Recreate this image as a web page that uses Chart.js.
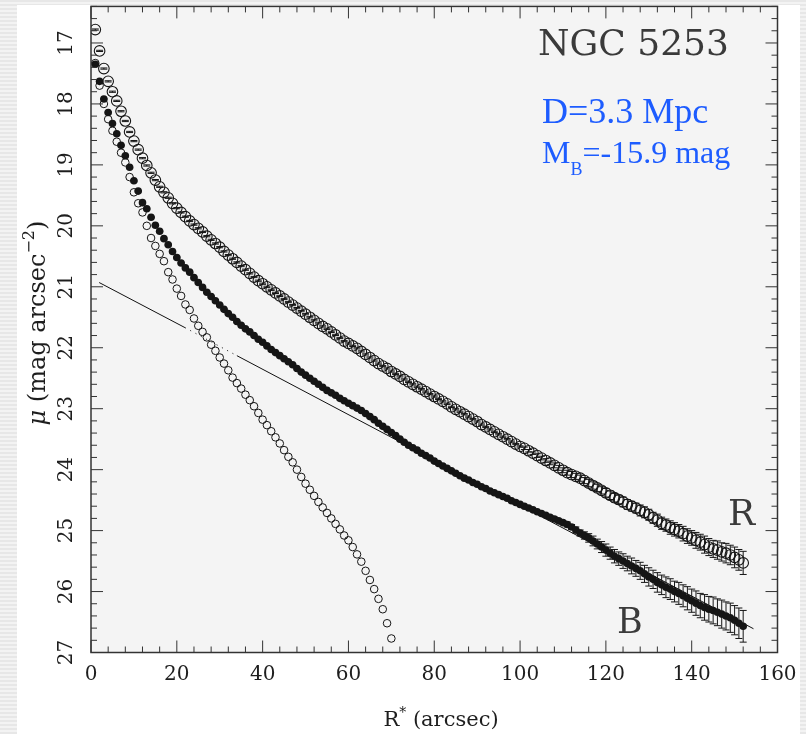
<!DOCTYPE html>
<html>
<head>
<meta charset="utf-8">
<script src="https://cdn.jsdelivr.net/npm/chart.js@4.4.1/dist/chart.umd.min.js"></script>
<style>
  html, body { margin: 0; padding: 0; }
  body {
    width: 806px; height: 734px; overflow: hidden; position: relative;
    background: repeating-linear-gradient(to bottom, #e7e7e7 0 2px, #f3f3f3 2px 4px);
  }
  #paper { position: absolute; left: 17px; top: 5px; width: 783px; height: 729px; background: #fff; }
  #chart { position: absolute; left: 0; top: 0; }
</style>
</head>
<body>
<div id="paper"></div>
<canvas id="chart" width="806" height="734"></canvas>
<script>
// radius (arcsec) of each isophote
const radii = [
  1, 2, 3, 4, 5, 6, 7, 8, 9, 10, 11, 12, 13, 14, 15, 16, 17, 18, 19, 20,
  21, 22, 23, 24, 25, 26, 27, 28, 29, 30, 31, 32, 33, 34, 35, 36, 37, 38, 39, 40,
  41, 42, 43, 44, 45, 46, 47, 48, 49, 50, 51, 52, 53, 54, 55, 56, 57, 58, 59, 60,
  61, 62, 63, 64, 65, 66, 67, 68, 69, 70, 71, 72, 73, 74, 75, 76, 77, 78, 79, 80,
  81, 82, 83, 84, 85, 86, 87, 88, 89, 90, 91, 92, 93, 94, 95, 96, 97, 98, 99, 100,
  101, 102, 103, 104, 105, 106, 107, 108, 109, 110, 111, 112, 113, 114, 115, 116, 117, 118, 119, 120,
  121, 122, 123, 124, 125, 126, 127, 128, 129, 130, 131, 132, 133, 134, 135, 136, 137, 138, 139, 140,
  141, 142, 143, 144, 145, 146, 147, 148, 149, 150, 151, 152
];

// R band profile (open circles)
const muR = [
  16.78, 17.13, 17.42, 17.63, 17.80, 17.95, 18.12, 18.28, 18.46, 18.61,
  18.75, 18.89, 19.01, 19.13, 19.25, 19.36, 19.45, 19.54, 19.63, 19.71,
  19.78, 19.85, 19.92, 19.98, 20.04, 20.10, 20.17, 20.23, 20.29, 20.35,
  20.42, 20.48, 20.54, 20.60, 20.66, 20.72, 20.78, 20.84, 20.90, 20.95,
  21.00, 21.05, 21.10, 21.15, 21.20, 21.25, 21.30, 21.35, 21.40, 21.45,
  21.50, 21.55, 21.60, 21.65, 21.69, 21.74, 21.79, 21.84, 21.89, 21.93,
  21.97, 22.01, 22.06, 22.11, 22.16, 22.21, 22.26, 22.30, 22.34, 22.39,
  22.43, 22.47, 22.52, 22.56, 22.60, 22.64, 22.68, 22.72, 22.76, 22.80,
  22.84, 22.88, 22.92, 22.97, 23.01, 23.05, 23.09, 23.13, 23.17, 23.21,
  23.26, 23.30, 23.34, 23.38, 23.42, 23.46, 23.50, 23.54, 23.58, 23.62,
  23.65, 23.69, 23.73, 23.77, 23.81, 23.85, 23.89, 23.93, 23.97, 24.01,
  24.05, 24.08, 24.11, 24.14, 24.18, 24.22, 24.26, 24.30, 24.34, 24.38,
  24.42, 24.46, 24.49, 24.53, 24.57, 24.60, 24.63, 24.67, 24.70, 24.74,
  24.79, 24.83, 24.88, 24.91, 24.95, 24.98, 25.01, 25.05, 25.09, 25.12,
  25.16, 25.19, 25.23, 25.27, 25.30, 25.32, 25.35, 25.37, 25.40, 25.44,
  25.48, 25.53
];
const errR = [
  0.01, 0.01, 0.01, 0.01, 0.01, 0.01, 0.01, 0.01, 0.01, 0.01, 0.01, 0.01, 0.01, 0.01, 0.01, 0.01, 0.01, 0.01, 0.01, 0.01,
  0.01, 0.01, 0.01, 0.01, 0.01, 0.01, 0.01, 0.01, 0.01, 0.01, 0.01, 0.01, 0.01, 0.01, 0.01, 0.01, 0.01, 0.01, 0.01, 0.01,
  0.01, 0.01, 0.01, 0.01, 0.01, 0.01, 0.01, 0.01, 0.01, 0.01, 0.01, 0.01, 0.01, 0.01, 0.01, 0.01, 0.01, 0.01, 0.01, 0.01,
  0.01, 0.01, 0.01, 0.01, 0.01, 0.01, 0.01, 0.01, 0.01, 0.01, 0.01, 0.01, 0.01, 0.01, 0.01, 0.01, 0.01, 0.01, 0.01, 0.01,
  0.01, 0.01, 0.01, 0.01, 0.01, 0.01, 0.01, 0.01, 0.01, 0.01, 0.01, 0.01, 0.01, 0.01, 0.01, 0.01, 0.01, 0.01, 0.01, 0.01,
  0.02, 0.02, 0.02, 0.03, 0.03, 0.03, 0.03, 0.04, 0.04, 0.04,
  0.04, 0.05, 0.05, 0.05, 0.05, 0.06, 0.06, 0.06, 0.06, 0.07,
  0.07, 0.07, 0.07, 0.08, 0.08, 0.08, 0.08, 0.09, 0.09, 0.09,
  0.09, 0.10, 0.10, 0.10, 0.11, 0.11, 0.11, 0.12, 0.12, 0.12,
  0.13, 0.13, 0.14, 0.14, 0.14, 0.15, 0.15, 0.16, 0.16, 0.17,
  0.17, 0.19
];

// B band profile (filled dots)
const muB = [
  17.35, 17.63, 17.92, 18.14, 18.32, 18.49, 18.68, 18.85, 19.04, 19.26,
  19.43, 19.62, 19.72, 19.86, 19.99, 20.09, 20.21, 20.31, 20.42, 20.52,
  20.61, 20.69, 20.76, 20.85, 20.93, 21.01, 21.09, 21.16, 21.23, 21.30,
  21.37, 21.44, 21.50, 21.57, 21.63, 21.69, 21.74, 21.80, 21.86, 21.91,
  21.97, 22.03, 22.08, 22.13, 22.18, 22.23, 22.28, 22.34, 22.40, 22.45,
  22.50, 22.55, 22.60, 22.65, 22.70, 22.74, 22.78, 22.83, 22.87, 22.91,
  22.95, 22.99, 23.03, 23.08, 23.13, 23.18, 23.24, 23.29, 23.34, 23.39,
  23.44, 23.50, 23.55, 23.60, 23.64, 23.68, 23.73, 23.77, 23.81, 23.86,
  23.90, 23.94, 23.98, 24.02, 24.06, 24.10, 24.14, 24.17, 24.21, 24.24,
  24.28, 24.31, 24.35, 24.38, 24.41, 24.44, 24.47, 24.51, 24.54, 24.57,
  24.60, 24.63, 24.66, 24.69, 24.72, 24.75, 24.78, 24.81, 24.84, 24.87,
  24.90, 24.94, 24.99, 25.04, 25.08, 25.12, 25.17, 25.22, 25.27, 25.32,
  25.37, 25.42, 25.46, 25.50, 25.54, 25.58, 25.62, 25.66, 25.71, 25.76,
  25.80, 25.85, 25.89, 25.93, 25.96, 26.00, 26.03, 26.07, 26.11, 26.15,
  26.19, 26.23, 26.26, 26.29, 26.31, 26.34, 26.37, 26.40, 26.43, 26.47,
  26.52, 26.57
];
const errB = [
  0.01, 0.01, 0.01, 0.01, 0.01, 0.01, 0.01, 0.01, 0.01, 0.01, 0.01, 0.01, 0.01, 0.01, 0.01, 0.01, 0.01, 0.01, 0.01, 0.01,
  0.01, 0.01, 0.01, 0.01, 0.01, 0.01, 0.01, 0.01, 0.01, 0.01, 0.01, 0.01, 0.01, 0.01, 0.01, 0.01, 0.01, 0.01, 0.01, 0.01,
  0.01, 0.01, 0.01, 0.01, 0.01, 0.01, 0.01, 0.01, 0.01, 0.01, 0.01, 0.01, 0.01, 0.01, 0.01, 0.01, 0.01, 0.01, 0.01, 0.01,
  0.01, 0.01, 0.01, 0.01, 0.01, 0.01, 0.01, 0.01, 0.01, 0.01, 0.01, 0.01, 0.01, 0.01, 0.01, 0.01, 0.01, 0.01, 0.01, 0.01,
  0.01, 0.01, 0.01, 0.01, 0.01, 0.01, 0.01, 0.01, 0.01, 0.01, 0.01, 0.01, 0.01, 0.01, 0.01, 0.01, 0.01, 0.01, 0.01, 0.01,
  0.01, 0.01, 0.01, 0.01, 0.01,
  0.02, 0.02, 0.03, 0.03, 0.03, 0.04, 0.04, 0.05, 0.05, 0.06,
  0.07, 0.08, 0.08, 0.09, 0.10, 0.10, 0.11, 0.11, 0.12, 0.12,
  0.13, 0.13, 0.14, 0.14, 0.15, 0.15, 0.16, 0.16, 0.17, 0.17,
  0.17, 0.18, 0.18, 0.19, 0.19, 0.20, 0.20, 0.21, 0.21, 0.22,
  0.22, 0.23, 0.23, 0.24, 0.24, 0.25, 0.26
];

// inner component (small open circles), radii 1..70
const muInner = [
  17.33, 17.70, 18.00, 18.25, 18.44, 18.62, 18.80, 18.96, 19.20, 19.45,
  19.63, 19.78, 20.00, 20.20, 20.33, 20.46, 20.58, 20.76, 20.88, 21.03,
  21.15, 21.29, 21.38, 21.52, 21.64, 21.74, 21.83, 21.95, 22.05, 22.16,
  22.26, 22.37, 22.49, 22.58, 22.67, 22.77, 22.86, 22.96, 23.07, 23.18,
  23.27, 23.37, 23.47, 23.57, 23.68, 23.79, 23.88, 24.00, 24.12, 24.23,
  24.33, 24.43, 24.53, 24.62, 24.71, 24.80, 24.89, 24.98, 25.08, 25.16,
  25.27, 25.39, 25.51, 25.66, 25.81, 25.96, 26.12, 26.29, 26.52, 26.77
];

// exponential disk fit; second segment is dotted
const diskR = [1.9, 21.9, 34.0, 154.4];
const diskMu = [20.93, 21.67, 22.13, 26.61];

const xTicks = [0, 20, 40, 60, 80, 100, 120, 140, 160];
const yTicks = [17, 18, 19, 20, 21, 22, 23, 24, 25, 26, 27];

const pts = (xs, ys) => ys.map((y, i) => ({ x: xs[i], y }));

const INK = '#151515';
const HERSHEY = '"DejaVu Serif", serif';
const BLUE = '#1d5cff';

const framePlugin = {
  id: 'frame',
  beforeDraw(chart) {
    const { ctx, chartArea: a } = chart;
    ctx.save();
    ctx.fillStyle = '#f4f4f4';
    ctx.fillRect(a.left, a.top, a.right - a.left, a.bottom - a.top);
    ctx.restore();
  },
  beforeDatasetsDraw(chart) {
    // error bars with caps
    const { ctx } = chart;
    const ys = chart.scales.y;
    ctx.save();
    ctx.strokeStyle = INK;
    ctx.lineWidth = 1;
    chart.data.datasets.forEach((ds, di) => {
      if (!ds.errors) return;
      const meta = chart.getDatasetMeta(di);
      meta.data.forEach((p, i) => {
        const v = ds.data[i].y, e = ds.errors[i];
        const y1 = ys.getPixelForValue(v - e), y2 = ys.getPixelForValue(v + e);
        ctx.beginPath();
        ctx.moveTo(p.x, y1); ctx.lineTo(p.x, y2);
        ctx.moveTo(p.x - 3.5, y1); ctx.lineTo(p.x + 3.5, y1);
        ctx.moveTo(p.x - 3.5, y2); ctx.lineTo(p.x + 3.5, y2);
        ctx.stroke();
      });
    });
    ctx.restore();
  },
  afterDraw(chart) {
    const { ctx, chartArea: a, scales: { x, y } } = chart;
    ctx.save();
    ctx.strokeStyle = '#333';
    ctx.lineWidth = 1.5;
    ctx.strokeRect(a.left, a.top, a.right - a.left, a.bottom - a.top);

    ctx.lineWidth = 1;
    ctx.beginPath();
    for (let v = 0; v <= 160; v += 4) {
      const px = x.getPixelForValue(v);
      const len = v % 20 === 0 ? 12 : 6;
      ctx.moveTo(px, a.bottom); ctx.lineTo(px, a.bottom - len);
      ctx.moveTo(px, a.top); ctx.lineTo(px, a.top + len);
    }
    for (let i = 82; i <= 135; i++) {
      const py = y.getPixelForValue(i / 5);
      const len = i % 5 === 0 ? 12 : 6;
      ctx.moveTo(a.left, py); ctx.lineTo(a.left + len, py);
      ctx.moveTo(a.right, py); ctx.lineTo(a.right - len, py);
    }
    ctx.stroke();

    // tick labels
    ctx.fillStyle = '#1e1e1e';
    ctx.font = '20px ' + HERSHEY;
    ctx.textAlign = 'center';
    ctx.textBaseline = 'alphabetic';
    xTicks.forEach(v => ctx.fillText(String(v), x.getPixelForValue(v), 680));
    ctx.textBaseline = 'middle';
    yTicks.forEach(v => {
      ctx.save();
      ctx.translate(67, y.getPixelForValue(v));
      ctx.rotate(-Math.PI / 2);
      ctx.fillText(String(v), 0, 0);
      ctx.restore();
    });

    // x axis title: R* (arcsec)
    ctx.textBaseline = 'alphabetic';
    ctx.textAlign = 'left';
    const xt = [['R', '21px ' + HERSHEY, 0], ['*', '14px ' + HERSHEY, -9], [' (arcsec)', '21px ' + HERSHEY, 0]];
    let w = 0;
    xt.forEach(([t, f]) => { ctx.font = f; w += ctx.measureText(t).width; });
    let cx = 441 - w / 2;
    xt.forEach(([t, f, dy]) => { ctx.font = f; ctx.fillText(t, cx, 726 + dy); cx += ctx.measureText(t).width; });

    // y axis title: mu (mag arcsec^-2)
    const yt = [['\u03bc', 'italic 24px ' + HERSHEY, 0], [' (mag arcsec', '24px ' + HERSHEY, 0],
                ['\u22122', '16px ' + HERSHEY, -11], [')', '24px ' + HERSHEY, 0]];
    w = 0;
    yt.forEach(([t, f]) => { ctx.font = f; w += ctx.measureText(t).width; });
    ctx.save();
    ctx.translate(45, 323);
    ctx.rotate(-Math.PI / 2);
    cx = -w / 2;
    yt.forEach(([t, f, dy]) => { ctx.font = f; ctx.fillText(t, cx, dy); cx += ctx.measureText(t).width; });
    ctx.restore();

    // annotations
    ctx.fillStyle = '#3a3a3a';
    ctx.font = '36px ' + HERSHEY;
    ctx.fillText('NGC 5253', 538, 55);
    ctx.fillText('R', 728, 525);
    ctx.font = '35px ' + HERSHEY;
    ctx.fillText('B', 617, 633);

    ctx.fillStyle = BLUE;
    ctx.font = '36px "Liberation Serif", serif';
    ctx.fillText('D=3.3 Mpc', 542, 123);
    ctx.font = '32px "Liberation Serif", serif';
    ctx.fillText('M', 542, 163);
    cx = 542 + ctx.measureText('M').width;
    ctx.font = '18px "Liberation Serif", serif';
    ctx.fillText('B', cx, 175);
    cx += ctx.measureText('B').width;
    ctx.font = '32px "Liberation Serif", serif';
    ctx.fillText('=-15.9 mag', cx, 163);
    ctx.restore();
  }
};

new Chart(document.getElementById('chart'), {
  type: 'scatter',
  data: {
    datasets: [
      {
        label: 'B',
        data: pts(radii, muB),
        errors: errB,
        pointStyle: 'circle',
        pointRadius: 3.8,
        pointBackgroundColor: INK,
        pointBorderColor: INK,
        pointBorderWidth: 0,
      },
      {
        label: 'R',
        data: pts(radii, muR),
        errors: errR,
        pointStyle: 'circle',
        pointRadius: 5.3,
        pointBackgroundColor: 'rgba(0,0,0,0)',
        pointBorderColor: INK,
        pointBorderWidth: 1.1,
      },
      {
        label: 'inner',
        data: pts(radii, muInner),
        pointStyle: 'circle',
        pointRadius: 3.8,
        pointBackgroundColor: 'rgba(0,0,0,0)',
        pointBorderColor: INK,
        pointBorderWidth: 1,
      },
      {
        label: 'disk',
        type: 'line',
        data: pts(diskR, diskMu),
        borderColor: '#111',
        borderWidth: 1,
        pointRadius: 0,
        segment: { borderDash: c => (c.p0DataIndex === 1 ? [1, 5] : undefined) },
      },
    ],
  },
  options: {
    responsive: false,
    animation: false,
    devicePixelRatio: 1,
    layout: { padding: { left: 91, right: 28.5, top: 6, bottom: 81.5 } },
    scales: {
      x: { type: 'linear', min: 0, max: 160, display: false },
      y: { type: 'linear', min: 16.4, max: 27, reverse: true, display: false },
    },
    plugins: { legend: { display: false }, tooltip: { enabled: false } },
  },
  plugins: [framePlugin],
});
</script>
</body>
</html>
